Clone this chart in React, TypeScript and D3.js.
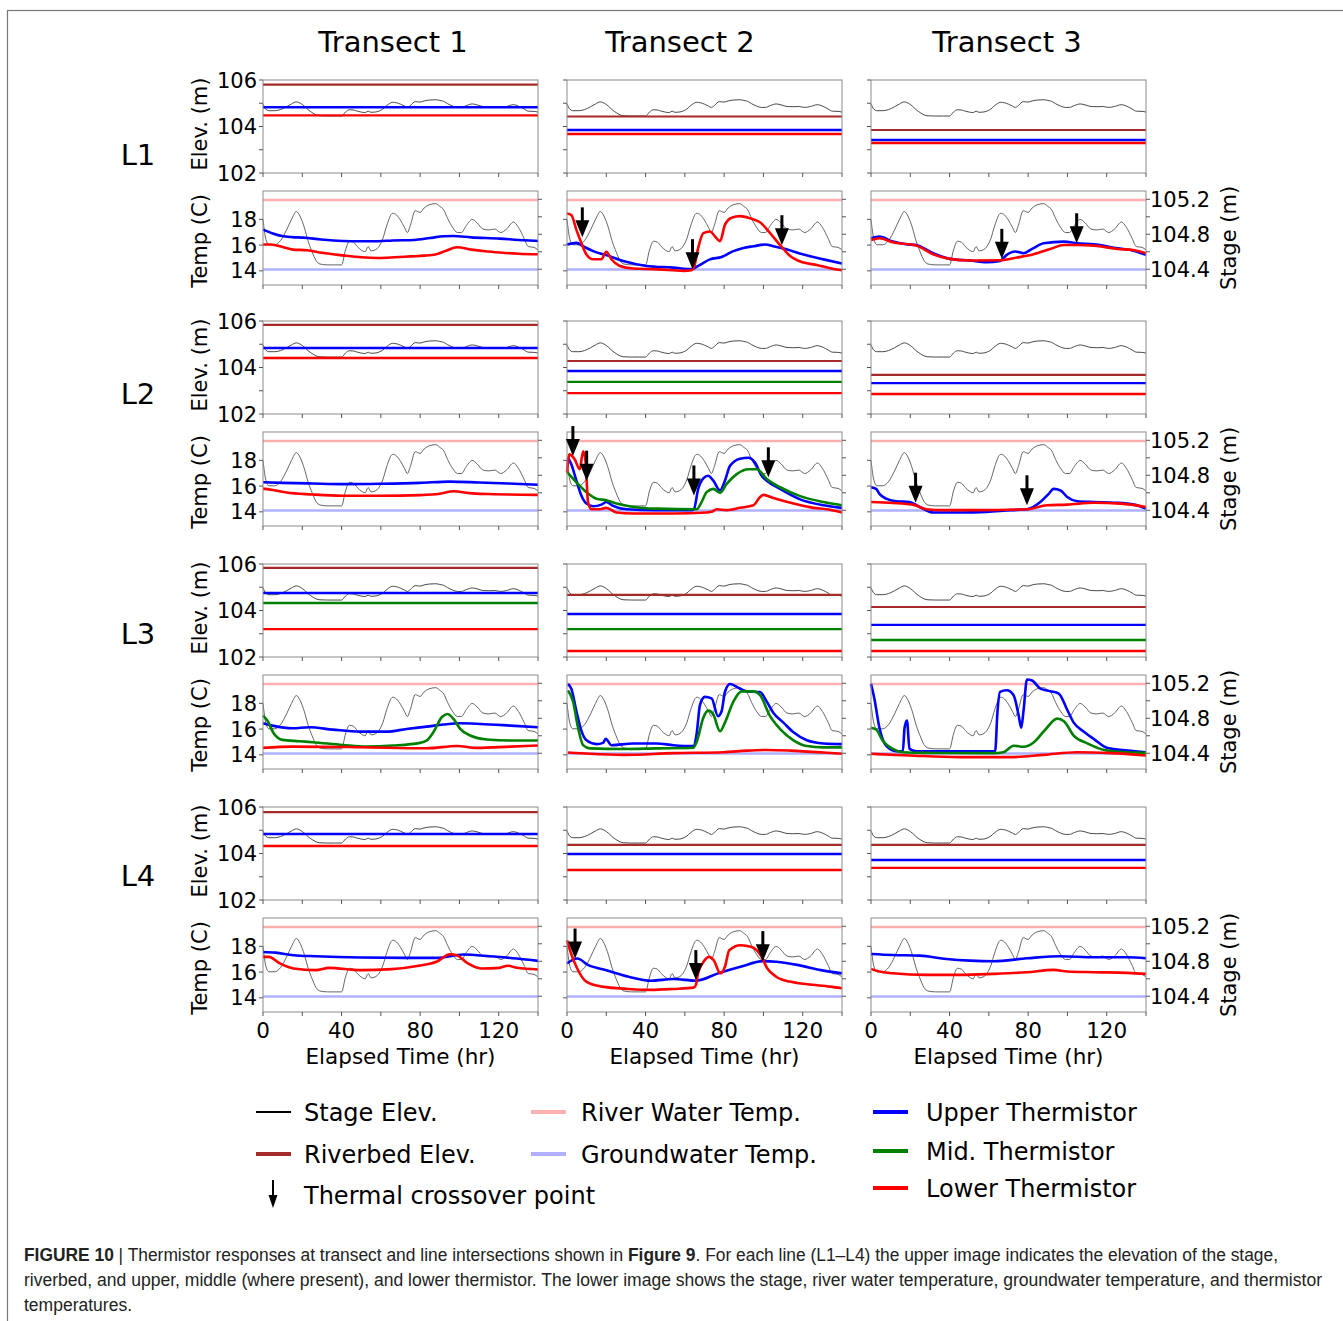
import React from "react";
import * as d3 from "d3";

type Pt = [number, number];

// ---------- labels & ticks ----------
const transects = ["Transect 1", "Transect 2", "Transect 3"];
const lineNames = ["L1", "L2", "L3", "L4"];
const hourTicks = [0, 20, 40, 60, 80, 100, 120, 140];
const hourLabels = [0, 40, 80, 120];
const elevTicks = [102, 103, 104, 105, 106];
const elevLabels = [102, 104, 106];
const tempTicks = [14, 16, 18];
const stageTicks = [104.4, 104.6, 104.8, 105.0, 105.2];
const stageLabels = [104.4, 104.8, 105.2];

// ---------- stage (m) vs elapsed hours ----------
const stage: Pt[] = [
  [0, 104.97], [1.5, 104.74], [3, 104.68], [6, 104.68], [9, 104.73], [12, 104.85],
  [14.5, 104.97], [17, 105.06], [19, 105.0], [21, 104.88], [23, 104.72], [25, 104.6],
  [27, 104.5], [29, 104.46], [33, 104.45], [37, 104.45], [40, 104.45], [42, 104.62],
  [44, 104.72], [46, 104.71], [48, 104.66], [50, 104.62], [52, 104.6], [53.5, 104.66],
  [55, 104.61], [57, 104.62], [59, 104.66], [61, 104.75], [63, 104.9], [66, 105.04],
  [68, 105.02], [70, 104.96], [72, 104.88], [73.5, 104.82], [75, 104.9], [77.5, 105.07],
  [80, 105.05], [82, 105.1], [85, 105.14], [88, 105.15], [90, 105.12], [92, 105.08],
  [94, 104.98], [96.5, 104.88], [99, 104.82], [101, 104.82], [103.5, 104.9], [106.5, 104.97],
  [109, 104.93], [112, 104.86], [115, 104.85], [118, 104.86], [121, 104.82], [124, 104.86],
  [127.5, 104.94], [130, 104.88], [133, 104.75], [135, 104.66], [138, 104.65], [140, 104.62],
];

const riverWaterTemp = 19.5;
const groundwaterTemp = 14.1;

// ---------- elevations (m), rows = L1..L4, cols = transect 1..3 ----------
const riverbedElev = [
  [105.8, 104.43, 103.85],
  [105.83, 104.28, 103.68],
  [105.83, 104.67, 104.15],
  [105.78, 104.37, 104.37],
];
const upperElev = [
  [104.83, 103.85, 103.42],
  [104.84, 103.85, 103.33],
  [104.75, 103.85, 103.38],
  [104.84, 103.98, 103.72],
];
const midElev: (number | null)[][] = [
  [null, null, null],
  [null, 103.38, null],
  [104.32, 103.2, 102.73],
  [null, null, null],
];
const lowerElev = [
  [104.48, 103.68, 103.29],
  [104.41, 102.9, 102.86],
  [103.2, 102.26, 102.26],
  [104.32, 103.29, 103.38],
];

// ---------- thermistor temperatures (C) ----------
const upperT1L1: Pt[] = [[0, 17.2], [5, 16.9], [9.6, 16.7], [15, 16.62], [20.6, 16.58], [29.6, 16.43], [40.5, 16.32], [50, 16.3], [58.7, 16.3], [66, 16.36], [76.9, 16.4], [85, 16.55], [92, 16.68], [96.9, 16.7], [106, 16.6], [120.6, 16.5], [130, 16.4], [140, 16.32]];
const lowerT1L1: Pt[] = [[0, 16.04], [4, 16.05], [10, 15.85], [15.2, 15.65], [22.4, 15.6], [30, 15.4], [40.5, 15.2], [50, 15.05], [58.7, 15.0], [67, 15.05], [75, 15.12], [82, 15.18], [87.8, 15.27], [93, 15.55], [98.7, 15.83], [106, 15.65], [113, 15.52], [120.6, 15.42], [130, 15.33], [140, 15.29]];

const upperT2L1: Pt[] = [[0, 16.04], [4.8, 16.17], [8.2, 15.91], [13.3, 15.53], [20, 15.22], [28.6, 14.76], [40.5, 14.38], [54, 14.25], [63.4, 14.13], [66.8, 14.38], [72.8, 14.89], [78.7, 15.07], [84.7, 15.53], [89.8, 15.78], [94.9, 15.91], [100.9, 16.04], [105.1, 15.91], [110.2, 15.73], [120.4, 15.27], [130.6, 14.89], [140, 14.56]];
const lowerT2L1: Pt[] = [[0, 18.46], [2.2, 18.33], [4.8, 17.18], [7.3, 16.17], [9.9, 15.27], [13.3, 14.9], [17.5, 14.9], [20, 15.48], [22.6, 14.9], [26.9, 14.38], [33.7, 14.18], [43.9, 14.13], [54, 14.05], [59.2, 14.0], [63.4, 14.05], [64.6, 14.26], [66.8, 15.78], [69.4, 16.93], [72.8, 17.06], [75.3, 16.68], [77.9, 16.3], [80.4, 17.57], [83.8, 18.13], [88.1, 18.25], [93.2, 18.08], [98.3, 17.77], [103.4, 16.93], [108.5, 15.99], [113.6, 15.15], [120.4, 14.64], [127.2, 14.46], [134, 14.2], [140, 14.05]];

const upperT3L1: Pt[] = [[0, 16.53], [4.3, 16.66], [11.1, 16.27], [17.9, 16.06], [23, 16.0], [31.6, 15.37], [40.1, 14.93], [50.4, 14.8], [58.9, 14.67], [65.7, 14.77], [69.1, 15.24], [73.4, 15.5], [77.7, 15.37], [82, 15.7], [87.9, 16.14], [98.2, 16.27], [105, 16.14], [113.5, 16.06], [125.5, 15.75], [134, 15.55], [140, 15.24]];
const lowerT3L1: Pt[] = [[0, 16.4], [4.3, 16.53], [11.1, 16.22], [23, 15.96], [31.6, 15.29], [40.1, 14.93], [50.4, 14.8], [65.7, 14.82], [74.3, 15.03], [82.8, 15.29], [91.3, 15.7], [98.2, 16.01], [105, 16.01], [113.5, 15.96], [125.5, 15.7], [134, 15.6], [140, 15.37]];

const upperT1L2: Pt[] = [[0, 16.3], [10, 16.25], [25, 16.2], [40, 16.15], [60, 16.18], [80, 16.25], [95, 16.35], [110, 16.28], [125, 16.2], [140, 16.1]];
const lowerT1L2: Pt[] = [[0, 15.8], [5, 15.7], [12, 15.5], [25, 15.35], [40, 15.25], [60, 15.25], [80, 15.3], [90, 15.4], [97, 15.6], [105, 15.45], [115, 15.38], [140, 15.32]];

const upperT2L2: Pt[] = [[0.5, 18.2], [2.2, 17.69], [4.8, 16.42], [7.3, 15.27], [9.9, 14.64], [13.3, 14.43], [17.5, 14.56], [20, 14.76], [23.5, 14.46], [30.3, 14.2], [45.6, 14.13], [63.4, 14.13], [64.6, 14.2], [66.8, 15.78], [69.4, 16.6], [71.9, 16.8], [74.5, 16.42], [77.9, 15.66], [80.4, 16.42], [83, 17.57], [88.1, 18.13], [92.3, 18.2], [95.7, 17.82], [99.1, 16.8], [101.7, 16.42], [108.5, 15.78], [118.7, 14.97], [130.6, 14.51], [140, 14.31]];
const midT2L2: Pt[] = [[0, 17.1], [4.8, 16.29], [9.9, 15.53], [15, 15.02], [20, 14.9], [25.2, 14.64], [33.7, 14.38], [45.6, 14.25], [66, 14.2], [68.5, 14.76], [71.1, 15.53], [74.5, 15.78], [77.9, 15.48], [81.3, 16.17], [86.4, 16.93], [92.3, 17.31], [96.6, 17.31], [101.7, 16.55], [108.5, 15.91], [118.7, 15.22], [130.6, 14.76], [140, 14.51]];
const lowerT2L2: Pt[] = [[0, 17.06], [1.2, 18.46], [3.9, 18.08], [6.5, 17.31], [8.2, 18.71], [9.5, 17.82], [10.7, 14.76], [12.4, 14.2], [16.7, 14.2], [20, 14.31], [25.2, 13.95], [33.7, 13.87], [54, 13.87], [71.1, 13.95], [73.6, 14.0], [76.2, 14.2], [81.3, 14.13], [88.1, 14.31], [94.9, 14.51], [98.3, 15.15], [100, 15.32], [105.1, 15.07], [115.3, 14.64], [125.5, 14.31], [132.3, 14.2], [140, 13.95]];

const upperT3L2: Pt[] = [[0, 15.91], [2.6, 15.78], [4.3, 15.4], [7.7, 15.02], [12.8, 14.82], [19.6, 14.76], [24.8, 14.38], [31.6, 13.95], [45.2, 13.95], [58.9, 14.0], [70.9, 14.13], [79.4, 14.2], [86.2, 14.76], [90.5, 15.4], [93, 15.78], [96.5, 15.66], [99.9, 15.15], [105, 14.82], [113.5, 14.76], [123.8, 14.71], [134, 14.56], [140, 14.25]];
const lowerT3L2: Pt[] = [[0, 14.76], [11.1, 14.69], [21.3, 14.56], [28.2, 14.2], [36.7, 14.13], [53.8, 14.13], [79.4, 14.2], [89.6, 14.51], [99.9, 14.56], [113.5, 14.71], [127.2, 14.64], [140, 14.38]];

const upperT1L3: Pt[] = [[0, 16.45], [4.8, 16.27], [15, 16.06], [23.6, 16.14], [35.5, 15.96], [49.2, 15.8], [62.8, 15.8], [73.1, 16.01], [83.3, 16.19], [91.9, 16.35], [100.4, 16.45], [110.6, 16.4], [126, 16.27], [140, 16.14]];
const midT1L3: Pt[] = [[0, 17.05], [2.2, 16.66], [5.6, 15.63], [9.9, 15.16], [18.4, 15.06], [25.3, 14.98], [40.6, 14.77], [52.6, 14.64], [66.2, 14.72], [79.9, 14.93], [83.3, 15.11], [86.7, 15.75], [91, 16.92], [93.9, 17.17], [97, 16.79], [100.4, 16.01], [105.5, 15.5], [114, 15.19], [126, 15.11], [140, 15.11]];
const lowerT1L3: Pt[] = [[0, 14.54], [15, 14.64], [49.2, 14.59], [83.3, 14.51], [98.7, 14.69], [109, 14.54], [126, 14.64], [140, 14.72]];

const upperT2L3: Pt[] = [[0.5, 19.5], [2.2, 19.13], [4.8, 17.38], [7.3, 15.88], [9.9, 15.13], [15, 14.83], [18.4, 14.93], [19.7, 15.25], [22.6, 14.75], [33.7, 14.88], [45.6, 14.88], [54.1, 14.75], [64.3, 14.68], [66, 15.63], [67.7, 17.88], [70.2, 18.5], [73.6, 18.38], [76.9, 17.0], [78.7, 17.38], [80.4, 18.88], [83, 19.5], [88.1, 19.13], [91.5, 18.93], [98.3, 18.88], [101.7, 18.13], [105.1, 17.25], [110.2, 16.5], [115.3, 15.75], [122.1, 15.13], [130.6, 14.88], [140, 14.83]];
const midT2L3: Pt[] = [[0.5, 19.0], [3.1, 18.13], [5.6, 16.13], [8.2, 14.75], [11.6, 14.5], [28.6, 14.45], [45.6, 14.5], [64.3, 14.55], [66, 15.0], [69.4, 16.88], [71.9, 17.43], [74.5, 17.13], [77.9, 15.83], [80.4, 16.5], [84.7, 18.13], [88.9, 18.93], [94.9, 18.93], [98.3, 18.63], [103.4, 17.0], [108.5, 16.0], [115.3, 15.13], [122.1, 14.68], [130.6, 14.58], [140, 14.58]];
const lowerT2L3: Pt[] = [[0.5, 14.18], [11.6, 14.08], [28.6, 14.0], [54.1, 14.13], [79.6, 14.2], [91.5, 14.33], [101.7, 14.38], [113.6, 14.33], [130.6, 14.18], [140, 14.08]];

const upperT3L3: Pt[] = [[0, 19.52], [1.7, 18.38], [4.3, 16.1], [7.7, 14.71], [12.8, 14.28], [16.2, 14.28], [17.1, 16.1], [18.3, 16.66], [19.6, 14.46], [23, 14.28], [45.2, 14.28], [63.2, 14.28], [64.4, 17.37], [65.7, 18.89], [69.1, 19.01], [72.6, 18.63], [75.1, 17.11], [76.5, 16.1], [77.7, 17.49], [79.4, 19.85], [82, 19.77], [86.2, 19.14], [91.3, 18.94], [95.6, 18.76], [99.9, 17.49], [103.3, 16.48], [108.4, 15.8], [113.5, 15.22], [120.4, 14.53], [130.6, 14.33], [140, 14.2]];
const midT3L3: Pt[] = [[0, 16.1], [2.6, 15.97], [6, 15.09], [11.1, 14.46], [16.2, 14.2], [28.2, 14.15], [62.3, 14.13], [67.4, 14.2], [72.6, 14.71], [77.7, 14.63], [82.8, 14.96], [88.8, 15.97], [94.8, 16.81], [98.2, 16.61], [103.3, 15.47], [110.1, 14.89], [118.7, 14.38], [130.6, 14.2], [140, 14.15]];
const lowerT3L3: Pt[] = [[0, 14.08], [19.6, 13.95], [45.2, 13.82], [70.9, 13.82], [87.9, 14.0], [105, 14.2], [122.1, 14.13], [140, 13.95]];

const upperT1L4: Pt[] = [[0, 17.56], [6.4, 17.51], [15.5, 17.31], [26.9, 17.23], [49.6, 17.13], [72.4, 17.1], [88.3, 17.1], [102, 17.36], [115.6, 17.23], [129.3, 17.05], [140, 16.87]];
const lowerT1L4: Pt[] = [[0, 17.18], [3, 17.18], [8.6, 16.67], [15.5, 16.28], [26.9, 16.15], [33.7, 16.33], [49.6, 16.15], [65.6, 16.23], [79.2, 16.49], [88.3, 16.8], [95.2, 17.38], [98.6, 17.31], [104.3, 16.67], [111.1, 16.28], [120.2, 16.33], [124.7, 16.49], [129.3, 16.33], [140, 16.2]];

const upperT2L4: Pt[] = [[0, 16.67], [5.2, 17.05], [10.9, 16.54], [20, 16.15], [31.4, 15.64], [42.8, 15.33], [54.2, 15.46], [65.6, 15.33], [76.9, 15.9], [88.3, 16.41], [99.7, 16.85], [106.5, 16.8], [117.9, 16.54], [129.3, 16.15], [140, 15.9]];
const lowerT2L4: Pt[] = [[0, 18.46], [1.8, 17.56], [5.2, 16.28], [9.8, 15.26], [17.8, 14.87], [31.4, 14.69], [42.8, 14.62], [54.2, 14.69], [64.4, 14.79], [65.6, 15.0], [66.7, 15.9], [69, 16.67], [72.4, 17.18], [74.7, 16.92], [78.1, 15.9], [80.4, 16.41], [82.6, 17.69], [88.3, 18.08], [94, 17.95], [98.6, 17.31], [102, 16.28], [106.5, 15.64], [113.4, 15.26], [122.5, 15.05], [133.9, 14.87], [140, 14.74]];

const upperT3L4: Pt[] = [[0, 17.41], [11.1, 17.33], [24.8, 17.28], [38.4, 17.02], [50.4, 16.89], [62.3, 16.84], [79.4, 17.07], [96.5, 17.23], [113.5, 17.15], [130.6, 17.15], [140, 17.07]];
const lowerT3L4: Pt[] = [[0, 16.25], [4.3, 16.04], [11.1, 15.91], [28.2, 15.78], [45.2, 15.78], [62.3, 15.86], [79.4, 15.99], [93, 16.17], [99.9, 16.04], [113.5, 15.99], [130.6, 15.94], [140, 15.86]];

// thermal crossover points (hour, temperature at arrow tip)
const crossT2L1: Pt[] = [[7.8, 16.6], [63.9, 14.13], [109.4, 15.99]];
const crossT3L1: Pt[] = [[66.6, 14.93], [104.7, 16.14]];
const crossT2L2: Pt[] = [[3, 18.33], [10, 16.42], [64.6, 15.27], [102.5, 16.68]];
const crossT3L2: Pt[] = [[22.7, 14.71], [79.4, 14.51]];
const crossT2L4: Pt[] = [[4.1, 17.05], [65.6, 15.38], [99.7, 16.85]];

const upperTemp: Pt[][][] = [
  [upperT1L1, upperT2L1, upperT3L1],
  [upperT1L2, upperT2L2, upperT3L2],
  [upperT1L3, upperT2L3, upperT3L3],
  [upperT1L4, upperT2L4, upperT3L4],
];
const midTemp: (Pt[] | null)[][] = [
  [null, null, null],
  [null, midT2L2, null],
  [midT1L3, midT2L3, midT3L3],
  [null, null, null],
];
const lowerTemp: Pt[][][] = [
  [lowerT1L1, lowerT2L1, lowerT3L1],
  [lowerT1L2, lowerT2L2, lowerT3L2],
  [lowerT1L3, lowerT2L3, lowerT3L3],
  [lowerT1L4, lowerT2L4, lowerT3L4],
];
const crossovers: (Pt[] | null)[][] = [
  [null, crossT2L1, crossT3L1],
  [null, crossT2L2, crossT3L2],
  [null, null, null],
  [null, crossT2L4, null],
];

// ---------- styling ----------
const COLORS = {
  stage: "#4a4a4a",
  riverbed: "#a52a2a",
  river: "#ffb0b0",
  ground: "#b0b0ff",
  upper: "#0000ff",
  mid: "#008000",
  lower: "#ff0000",
  frame: "#8c8c8c",
  tick: "#555",
};
const FONT = "'DejaVu Sans', Verdana, sans-serif";

const COL_X = [263, 567, 871];
const PANEL_W = 275;
const ROW_OFF = [0, 241, 484, 727];
const ELEV_TOP = 80;
const ELEV_H = 93;
const TEMP_TOP = 191;
const TEMP_H = 94;
const TITLE_X = [393, 680, 1007];
const ROW_LABEL_Y = [155, 394, 634, 876];

function Arrow({ x, tip, len = 30, head = 17, hw = 7, sw = 3 }: { x: number; tip: number; len?: number; head?: number; hw?: number; sw?: number }) {
  return (
    <g>
      <line x1={x} x2={x} y1={tip - len} y2={tip - head + 1} stroke="#000" strokeWidth={sw} />
      <path d={`M${x - hw},${tip - head} L${x + hw},${tip - head} L${x},${tip} Z`} fill="#000" />
    </g>
  );
}

function Panel({ li, ti }: { li: number; ti: number }) {
  const x0 = COL_X[ti];
  const off = ROW_OFF[li];
  const eTop = ELEV_TOP + off;
  const tTop = TEMP_TOP + off;
  const x = d3.scaleLinear().domain([0, 140]).range([x0, x0 + PANEL_W]);
  const yE = d3.scaleLinear().domain([102, 106]).range([eTop + ELEV_H, eTop]);
  const yT = d3.scaleLinear().domain([12.9, 20.2]).range([tTop + TEMP_H, tTop]);
  const yS = d3.scaleLinear().domain([104.22, 105.295]).range([tTop + TEMP_H, tTop]);

  const mk = (y: d3.ScaleLinear<number, number>) =>
    d3.line<Pt>().x((d) => x(d[0])).y((d) => y(d[1])).curve(d3.curveMonotoneX);
  const lineE = mk(yE);
  const lineT = mk(yT);
  const lineS = mk(yS);

  const hline = (y: number, color: string, w: number, key: string) => (
    <line key={key} x1={x(0)} x2={x(140)} y1={y} y2={y} stroke={color} strokeWidth={w} />
  );

  const mid = midElev[li][ti];
  const midT = midTemp[li][ti];
  const cross = crossovers[li][ti];
  const xb = x0 + PANEL_W;
  const isBottom = li === 3;

  return (
    <g>
      {/* ---- elevation panel ---- */}
      <path d={lineE(stage) || ""} fill="none" stroke={COLORS.stage} strokeWidth={1} />
      {hline(yE(riverbedElev[li][ti]), COLORS.riverbed, 2.2, "rb")}
      {hline(yE(upperElev[li][ti]), COLORS.upper, 2.4, "ue")}
      {mid !== null && hline(yE(mid), COLORS.mid, 2.4, "me")}
      {hline(yE(lowerElev[li][ti]), COLORS.lower, 2.4, "le")}
      <rect x={x0} y={eTop} width={PANEL_W} height={ELEV_H} fill="none" stroke={COLORS.frame} strokeWidth={1} />
      {hourTicks.map((h) => (
        <line key={"eb" + h} x1={x(h)} x2={x(h)} y1={eTop + ELEV_H} y2={eTop + ELEV_H + 4} stroke={COLORS.tick} />
      ))}
      {elevTicks.map((v) => (
        <line key={"el" + v} x1={x0 - 4} x2={x0} y1={yE(v)} y2={yE(v)} stroke={COLORS.tick} />
      ))}
      {ti === 0 &&
        elevLabels.map((v) => (
          <text key={"elt" + v} x={x0 - 6} y={yE(v)} dy="0.36em" textAnchor="end" fontSize={21} fontFamily={FONT} fill="#000">
            {v}
          </text>
        ))}

      {/* ---- temperature panel ---- */}
      {hline(yT(riverWaterTemp), COLORS.river, 2.4, "rw")}
      {hline(yT(groundwaterTemp), COLORS.ground, 2.4, "gw")}
      <path d={lineS(stage) || ""} fill="none" stroke={COLORS.stage} strokeWidth={1} opacity={0.85} />
      <path d={lineT(upperTemp[li][ti]) || ""} fill="none" stroke={COLORS.upper} strokeWidth={2.6} strokeLinejoin="round" />
      {midT && <path d={lineT(midT) || ""} fill="none" stroke={COLORS.mid} strokeWidth={2.6} strokeLinejoin="round" />}
      <path d={lineT(lowerTemp[li][ti]) || ""} fill="none" stroke={COLORS.lower} strokeWidth={2.6} strokeLinejoin="round" />
      <rect x={x0} y={tTop} width={PANEL_W} height={TEMP_H} fill="none" stroke={COLORS.frame} strokeWidth={1} />
      {hourTicks.map((h) => (
        <line key={"tb" + h} x1={x(h)} x2={x(h)} y1={tTop + TEMP_H} y2={tTop + TEMP_H + 4} stroke={COLORS.tick} />
      ))}
      {tempTicks.map((v) => (
        <line key={"tl" + v} x1={x0 - 4} x2={x0} y1={yT(v)} y2={yT(v)} stroke={COLORS.tick} />
      ))}
      {stageTicks.map((v) => (
        <line key={"sr" + v} x1={xb} x2={xb + 4} y1={yS(v)} y2={yS(v)} stroke={COLORS.tick} />
      ))}
      {ti === 0 &&
        tempTicks.map((v) => (
          <text key={"tlt" + v} x={x0 - 6} y={yT(v)} dy="0.36em" textAnchor="end" fontSize={21} fontFamily={FONT} fill="#000">
            {v}
          </text>
        ))}
      {ti === 2 &&
        stageLabels.map((v) => (
          <text key={"srt" + v} x={xb + 4} y={yS(v)} dy="0.36em" textAnchor="start" fontSize={21} fontFamily={FONT} fill="#000">
            {v.toFixed(1)}
          </text>
        ))}
      {ti === 2 && (
        <text
          transform={`translate(${1228},${tTop + TEMP_H / 2}) rotate(-90)`}
          textAnchor="middle"
          dy="0.36em"
          fontSize={21}
          fontFamily={FONT}
          fill="#000"
        >
          Stage (m)
        </text>
      )}
      {cross && cross.map((c, i) => <Arrow key={"ar" + i} x={x(c[0])} tip={yT(c[1])} />)}

      {isBottom &&
        hourLabels.map((h) => (
          <text key={"xl" + h} x={x(h)} y={1038} textAnchor="middle" fontSize={21.5} fontFamily={FONT} fill="#000">
            {h}
          </text>
        ))}
      {isBottom && (
        <text x={x0 + PANEL_W / 2} y={1064} textAnchor="middle" fontSize={21.5} fontFamily={FONT} fill="#000">
          Elapsed Time (hr)
        </text>
      )}
    </g>
  );
}

function LegendLine({ x, y, color, w }: { x: number; y: number; color: string; w: number }) {
  return <line x1={x} x2={x + 35} y1={y} y2={y} stroke={color} strokeWidth={w} />;
}

export default function App() {
  const legendText = (x: number, y: number, t: string) => (
    <text x={x} y={y} dy="0.36em" fontSize={24} fontFamily={FONT} fill="#000">
      {t}
    </text>
  );
  return (
    <svg
      width={1343}
      height={1321}
      style={{ position: "absolute", left: 0, top: 0, background: "#fff" }}
    >
      <rect x={0} y={0} width={1343} height={1321} fill="#fff" />
      <rect x={7.5} y={10.5} width={1400} height={1400} fill="none" stroke="#777" strokeWidth={1.2} />

      {transects.map((t, i) => (
        <text key={t} x={TITLE_X[i]} y={52} textAnchor="middle" fontSize={29} fontFamily={FONT} fill="#000">
          {t}
        </text>
      ))}

      {lineNames.map((ln, li) => (
        <g key={ln}>
          <text x={138} y={ROW_LABEL_Y[li]} dy="0.36em" textAnchor="middle" fontSize={29} fontFamily={FONT} fill="#000">
            {ln}
          </text>
          <text
            transform={`translate(199,${ELEV_TOP + ROW_OFF[li] + 44}) rotate(-90)`}
            textAnchor="middle"
            dy="0.36em"
            fontSize={21}
            fontFamily={FONT}
            fill="#000"
          >
            Elev. (m)
          </text>
          <text
            transform={`translate(199,${TEMP_TOP + ROW_OFF[li] + 50}) rotate(-90)`}
            textAnchor="middle"
            dy="0.36em"
            fontSize={21}
            fontFamily={FONT}
            fill="#000"
          >
            Temp (C)
          </text>
          {transects.map((t, ti) => (
            <Panel key={t} li={li} ti={ti} />
          ))}
        </g>
      ))}

      {/* legend */}
      <LegendLine x={256} y={1112} color="#000" w={2} />
      {legendText(304, 1112, "Stage Elev.")}
      <LegendLine x={256} y={1154} color={COLORS.riverbed} w={4} />
      {legendText(304, 1154, "Riverbed Elev.")}
      <Arrow x={273} tip={1208} len={28} head={13} hw={4.5} sw={2} />
      {legendText(304, 1195, "Thermal crossover point")}

      <LegendLine x={531} y={1112} color={COLORS.river} w={4} />
      {legendText(581, 1112, "River Water Temp.")}
      <LegendLine x={531} y={1154} color={COLORS.ground} w={4} />
      {legendText(581, 1154, "Groundwater Temp.")}

      <LegendLine x={873} y={1112} color={COLORS.upper} w={4} />
      {legendText(926, 1112, "Upper Thermistor")}
      <LegendLine x={873} y={1151} color={COLORS.mid} w={4} />
      {legendText(926, 1151, "Mid. Thermistor")}
      <LegendLine x={873} y={1188} color={COLORS.lower} w={4} />
      {legendText(926, 1188, "Lower Thermistor")}

      {/* caption */}
      <g fontFamily="'Liberation Sans', Arial, sans-serif" fontSize={17.5} fill="#222">
        <text x={24} y={1261} textLength={1254} lengthAdjust="spacingAndGlyphs">
          <tspan fontWeight="bold">FIGURE 10</tspan>
          <tspan> | Thermistor responses at transect and line intersections shown in </tspan>
          <tspan fontWeight="bold">Figure 9</tspan>
          <tspan>. For each line (L1–L4) the upper image indicates the elevation of the stage,</tspan>
        </text>
        <text x={24} y={1286} textLength={1298} lengthAdjust="spacingAndGlyphs">
          riverbed, and upper, middle (where present), and lower thermistor. The lower image shows the stage, river water temperature, groundwater temperature, and thermistor
        </text>
        <text x={24} y={1311} textLength={108} lengthAdjust="spacingAndGlyphs">
          temperatures.
        </text>
      </g>
    </svg>
  );
}
